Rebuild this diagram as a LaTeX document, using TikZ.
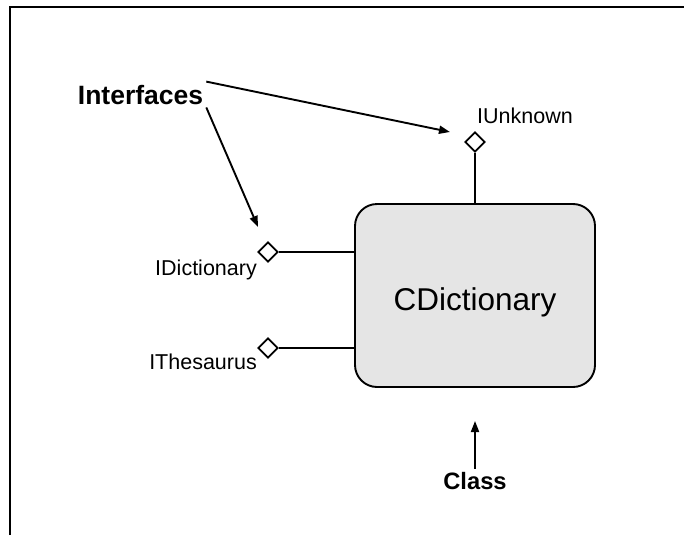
\documentclass[tikz,border=0pt]{standalone}
\usepackage{fontspec}
\setmainfont{Liberation Sans}
\usepackage{tikz}
\usetikzlibrary{shapes}
\usetikzlibrary{shapes.geometric}
\usetikzlibrary{arrows.meta}

\tikzset{
  lbl/.style = {font = \fontsize{21.5}{24}\selectfont, inner sep = 2pt},
  tag/.style = {font = \fontsize{26.5}{30}\selectfont\bfseries, inner sep = 3pt},
  port/.style = {draw, fill = white, diamond, minimum width = 20pt, minimum height = 20pt, inner sep = 0, line width = 1.9pt},
  wire/.style = {line width = 1.9pt},
  ptr/.style = {line width = 1.9pt, -{Triangle[length = 11pt, width = 8pt]}}
}

\begin{document}
\begin{tikzpicture}[x = 1pt, y = -1pt]
 \useasboundingbox (0, 0) rectangle (684, 535);
 \draw[line width = 2pt] (10, 535) -- (10, 7) -- (684, 7);
 % the class
  \node (cdict) at (475, 295.5) [draw, wire, fill = black!10, rounded corners = 22pt, minimum width = 240pt, minimum height = 183pt] {};
  \node at (475, 310) [anchor = base, font = \fontsize{31.5}{36}\selectfont] {CDictionary};
 % its interfaces
  \node (iunk) at (475, 142) [port] {};
  \node (idict) at (268, 252) [port] {};
  \node (ithes) at (268, 348) [port] {};
  \draw[wire] (iunk) -- (cdict.north);
  \draw[wire] (idict.east) -- (idict.east -| cdict.west);
  \draw[wire] (ithes.east) -- (ithes.east -| cdict.west);
  \node (iunklbl) at (475, 123) [lbl, anchor = base west] {IUnknown};
  \node (idictlbl) at (259, 275) [lbl, anchor = base east] {IDictionary};
  \node (itheslbl) at (259, 369) [lbl, anchor = base east] {IThesaurus};
 % captions
  \node (intf) at (140.5, 104) [tag, anchor = base] {Interfaces};
  \node (cls) at (475, 489) [tag, anchor = base, font = \fontsize{23.7}{27}\selectfont\bfseries] {Class};
  \coordinate (tipU) at (450, 132);
  \coordinate (tipD) at (258, 227);
  \coordinate (tipC) at (475, 421);
  \draw[ptr] (intf.north east) -- (tipU);
  \draw[ptr] (intf.south east) -- (tipD);
  \draw[ptr] (cls.north) -- (tipC);
\end{tikzpicture}
\end{document}
